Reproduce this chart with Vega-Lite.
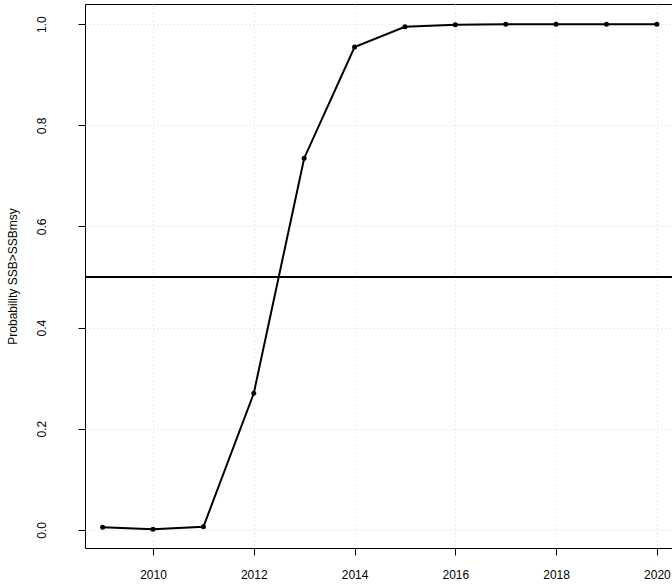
{
  "$schema": "https://vega.github.io/schema/vega-lite/v6.json",
  "autosize": "none",
  "width": 587,
  "height": 544,
  "padding": {"left": 85, "top": 4, "right": 0, "bottom": 40},
  "data": {
    "values": [
      {"year": 2009, "p": 0.005},
      {"year": 2010, "p": 0.001},
      {"year": 2011, "p": 0.006},
      {"year": 2012, "p": 0.27},
      {"year": 2013, "p": 0.735},
      {"year": 2014, "p": 0.955},
      {"year": 2015, "p": 0.995},
      {"year": 2016, "p": 0.999},
      {"year": 2017, "p": 1.0},
      {"year": 2018, "p": 1.0},
      {"year": 2019, "p": 1.0},
      {"year": 2020, "p": 1.0}
    ]
  },
  "layer": [
    {
      "mark": {"type": "rule", "color": "black", "strokeWidth": 0.8},
      "encoding": {"y": {"datum": 0.5, "type": "quantitative"}}
    },
    {
      "mark": {"type": "line", "color": "black", "strokeWidth": 2, "point": {"color": "black", "size": 25, "filled": true}},
      "encoding": {
        "x": {
          "field": "year", "type": "quantitative",
          "scale": {"domain": [2008.65, 2020.3], "nice": false, "zero": false},
          "axis": {"values": [2010, 2012, 2014, 2016, 2018, 2020], "format": "d", "title": null, "labelPadding": 14}
        },
        "y": {
          "field": "p", "type": "quantitative",
          "scale": {"domain": [-0.036, 1.04], "nice": false, "zero": false},
          "axis": {"values": [0, 0.2, 0.4, 0.6, 0.8, 1.0], "format": ".1f", "title": "Probability SSB>SSBmsy",
                   "labelAngle": 270, "labelAlign": "center", "labelBaseline": "bottom", "labelPadding": 30, "titlePadding": 16}
        }
      }
    }
  ],
  "config": {
    "view": {"stroke": "black", "strokeWidth": 1},
    "font": "Liberation Sans",
    "axis": {
      "domain": false,
      "grid": true,
      "gridColor": "#d8d8d8",
      "gridDash": [1, 3],
      "tickColor": "black",
      "tickSize": 7,
      "labelColor": "black",
      "labelFontSize": 12,
      "titleFontSize": 12,
      "titleFontWeight": "normal",
      "titleColor": "black"
    }
  }
}
